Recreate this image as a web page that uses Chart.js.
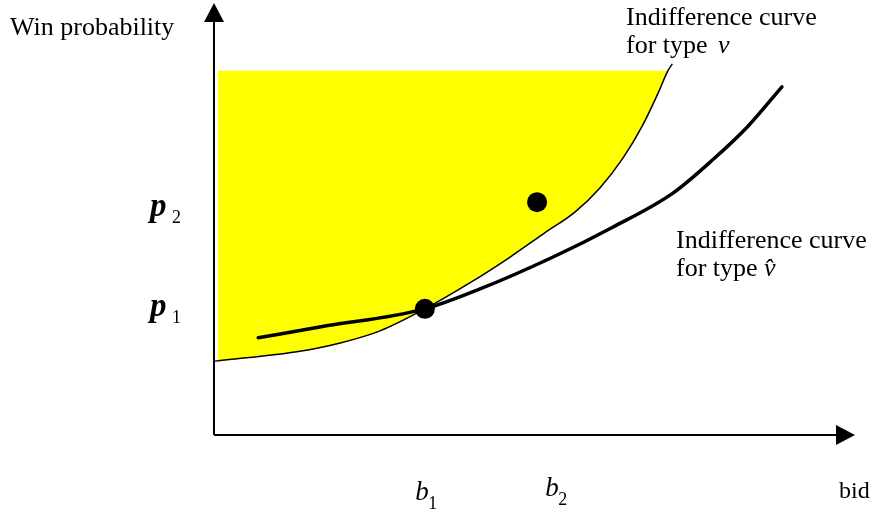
<!DOCTYPE html>
<html>
<head>
<meta charset="utf-8">
<script src="https://cdn.jsdelivr.net/npm/chart.js@4.4.0/dist/chart.umd.min.js"></script>
<style>
  html, body { margin: 0; padding: 0; background: #fff; }
</style>
</head>
<body>
<canvas id="chart" width="873" height="519"></canvas>
<script>
// Axes run 0..100 on both: bid (x) and win probability (y)

// Indifference curve for type v (thin line)
const typeVBids  = [0.16, 13.4, 19.7, 25.9, 32.9, 39.9, 46.2, 51.6, 56.3, 60.2, 63.8, 66.8, 69.3, 70.8, 71.5];
const typeVProbs = [17.1, 19.4, 21.3, 24.1, 29.2, 35.2, 41.2, 46.8, 51.6, 57.2, 64.1, 71.5, 79.2, 84.3, 85.9];

// Yellow region: above the type v curve, up to a probability of 84.3
const shadedBids  = [0.6, 13.4, 19.7, 25.9, 32.9, 39.9, 46.2, 51.6, 56.3, 60.2, 63.8, 66.8, 69.3, 70.8];
const shadedProbs = [17.0, 19.4, 21.3, 24.1, 29.2, 35.2, 41.2, 46.8, 51.6, 57.2, 64.1, 71.5, 79.2, 84.3];
const shadedTop = 84.3;

// Indifference curve for type v-hat (thick line)
const typeVHatBids  = [6.9, 16.5, 32.9, 41.5, 52.9, 62.2, 71.6, 77.8, 83.2, 88.6];
const typeVHatProbs = [22.5, 25.0, 29.2, 33.8, 41.2, 48.1, 56.0, 63.7, 71.3, 80.6];

// The two bid / probability pairs
const pointBids  = [32.9, 50.4];
const pointProbs = [29.2, 53.9];

// Axis labels
const xTickLabels = ["b", "b"];
const xTickSubs   = ["1", "2"];
const xTickValues = [33.1, 53.4];
const yTickLabels = ["p", "p"];
const yTickSubs   = ["1", "2"];
const yTickValues = [29.2, 52.3];

function toPoints(xs, ys) {
    return xs.map((x, i) => ({ x: x, y: ys[i] }));
}

const serif = '"Liberation Serif", "Times New Roman", serif';

// axes with arrows and all the text
const drawExtras = {
    id: "drawExtras",
    beforeDatasetsDraw(chart) {
        const ctx = chart.ctx;
        const xs = chart.scales.x;
        const ys = chart.scales.y;
        const x0 = xs.getPixelForValue(0);
        const y0 = ys.getPixelForValue(0);
        const xEnd = xs.getPixelForValue(100);
        const yEnd = ys.getPixelForValue(100);

        ctx.save();
        ctx.strokeStyle = "#000";
        ctx.fillStyle = "#000";
        ctx.lineWidth = 2;
        ctx.beginPath();
        ctx.moveTo(x0, y0);
        ctx.lineTo(x0, yEnd + 18);
        ctx.moveTo(x0, y0);
        ctx.lineTo(xEnd - 18, y0);
        ctx.stroke();

        // arrow heads
        ctx.beginPath();
        ctx.moveTo(x0, yEnd);
        ctx.lineTo(x0 - 10, yEnd + 19);
        ctx.lineTo(x0 + 10, yEnd + 19);
        ctx.closePath();
        ctx.fill();
        ctx.beginPath();
        ctx.moveTo(xEnd, y0);
        ctx.lineTo(xEnd - 19, y0 - 10);
        ctx.lineTo(xEnd - 19, y0 + 10);
        ctx.closePath();
        ctx.fill();
        ctx.restore();
    },
    afterDraw(chart) {
        const ctx = chart.ctx;
        const xs = chart.scales.x;
        const ys = chart.scales.y;
        ctx.save();
        ctx.fillStyle = "#000";
        ctx.textBaseline = "alphabetic";
        ctx.textAlign = "left";

        ctx.font = "26px " + serif;
        ctx.fillText("Win probability", 10, 35);
        ctx.fillText("Indifference curve", 626, 25);
        ctx.fillText("for type", 626, 53);
        ctx.fillText("Indifference curve", 676, 248);
        ctx.fillText("for type", 676, 276);
        ctx.font = "italic 26px " + serif;
        ctx.fillText("v", 718, 53);
        ctx.fillText("v\u0302", 764, 276);

        ctx.font = "24px " + serif;
        ctx.fillText("bid", 839, 498);

        // p labels on the probability axis
        yTickLabels.forEach((t, i) => {
            const y = ys.getPixelForValue(yTickValues[i]) + 7;
            ctx.font = "bold italic 33px " + serif;
            ctx.fillText(t, 150, y);
            ctx.font = "18px " + serif;
            ctx.fillText(yTickSubs[i], 172, y + 7);
        });

        // b labels on the bid axis
        xTickLabels.forEach((t, i) => {
            const x = xs.getPixelForValue(xTickValues[i]);
            const y = 500 - i * 4;
            ctx.font = "italic 27px " + serif;
            ctx.fillText(t, x - 11, y);
            ctx.font = "18px " + serif;
            ctx.fillText(xTickSubs[i], x + 2, y + 9);
        });
        ctx.restore();
    }
};

new Chart(document.getElementById("chart"), {
    type: "scatter",
    data: {
        datasets: [
            {
                data: toPoints(pointBids, pointProbs),
                pointRadius: 10,
                pointBackgroundColor: "#000",
                pointBorderWidth: 0,
                showLine: false
            },
            {
                data: toPoints(typeVHatBids, typeVHatProbs),
                showLine: true,
                borderColor: "#000",
                borderWidth: 3.5,
                pointRadius: 0,
                cubicInterpolationMode: "monotone",
                borderCapStyle: "round"
            },
            {
                data: toPoints(typeVBids, typeVProbs),
                showLine: true,
                borderColor: "#000",
                borderWidth: 1.5,
                pointRadius: 0,
                cubicInterpolationMode: "monotone"
            },
            {
                data: toPoints(shadedBids, shadedProbs),
                showLine: true,
                borderWidth: 0,
                borderColor: "rgba(0,0,0,0)",
                backgroundColor: "#ffff00",
                pointRadius: 0,
                cubicInterpolationMode: "monotone",
                fill: { value: shadedTop }
            }
        ]
    },
    options: {
        responsive: false,
        animation: false,
        layout: {
            autoPadding: false,
            padding: { left: 214, right: 18, top: 3, bottom: 84 }
        },
        scales: {
            x: { type: "linear", min: 0, max: 100, display: false },
            y: { type: "linear", min: 0, max: 100, display: false }
        },
        plugins: {
            legend: { display: false },
            tooltip: { enabled: false }
        }
    },
    plugins: [drawExtras]
});
</script>
</body>
</html>
